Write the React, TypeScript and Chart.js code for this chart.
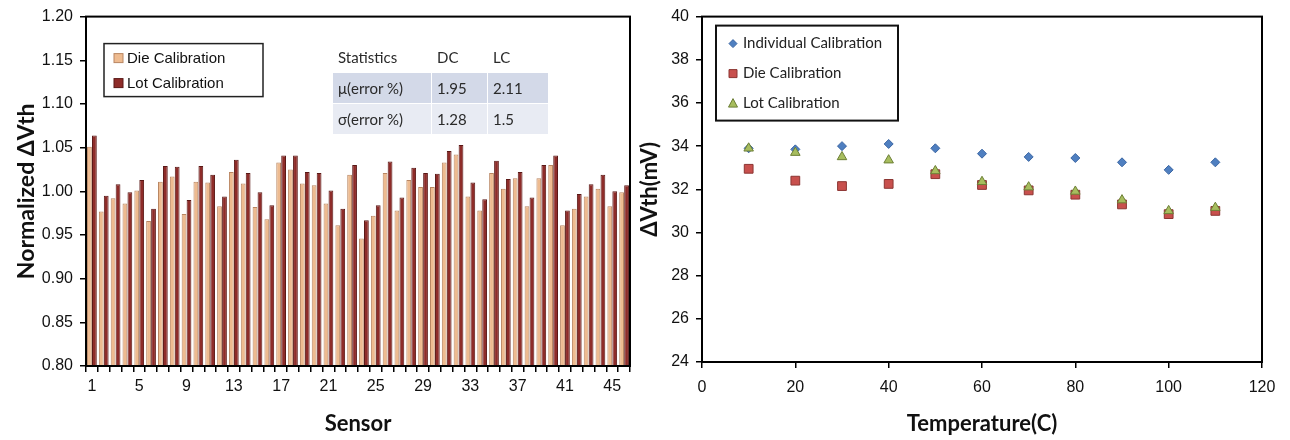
import React, { useEffect, useRef } from "react";
import { Chart, registerables } from "chart.js";
Chart.register(...registerables);

const sensors: string[] = Array.from({ length: 46 }, (_, i) => String(i + 1));
const dieCal: number[] = [
  1.051, 0.977, 0.992, 0.986, 1.001, 0.966, 1.011, 1.017, 0.974, 1.011,
  1.010, 0.983, 1.022, 1.009, 0.982, 0.968, 1.033, 1.025, 1.009, 1.007,
  0.986, 0.961, 1.019, 0.946, 0.972, 1.021, 0.978, 1.013, 1.005, 1.005,
  1.033, 1.042, 0.994, 0.978, 1.021, 1.003, 1.015, 0.983, 1.015, 1.030,
  0.961, 0.980, 0.994, 1.003, 0.983, 0.999,
];
const lotCal: number[] = [
  1.064, 0.995, 1.008, 0.999, 1.013, 0.980, 1.029, 1.028, 0.990, 1.029,
  1.019, 0.994, 1.036, 1.021, 0.999, 0.984, 1.041, 1.041, 1.022, 1.021,
  1.001, 0.980, 1.030, 0.967, 0.984, 1.034, 0.993, 1.027, 1.021, 1.020,
  1.046, 1.053, 1.010, 0.991, 1.035, 1.014, 1.022, 0.993, 1.030, 1.041,
  0.978, 0.997, 1.008, 1.019, 1.000, 1.007,
];

const temps: number[] = [10, 20, 30, 40, 50, 60, 70, 80, 90, 100, 110];
const indivVth: number[] = [33.9, 33.85, 34.0, 34.1, 33.9, 33.65, 33.5, 33.45, 33.25, 32.9, 33.25];
const dieVth: number[] = [32.95, 32.4, 32.15, 32.25, 32.7, 32.2, 31.95, 31.75, 31.3, 30.85, 31.0];
const lotVth: number[] = [33.9, 33.7, 33.5, 33.35, 32.85, 32.35, 32.1, 31.9, 31.5, 31.0, 31.15];

const statHeader: string[] = ["Statistics", "DC", "LC"];
const statMu: string[] = ["\u03bc(error %)", "1.95", "2.11"];
const statSigma: string[] = ["\u03c3(error %)", "1.28", "1.5"];

const TICK_FONT = { family: "'Liberation Sans', Arial, sans-serif", size: 16 };
const TITLE_FONT = { family: "Lato, 'Open Sans', sans-serif", size: 22, weight: "bold" as const, lineHeight: 1.2 };

const framePlugin = {
  id: "frame",
  afterDatasetsDraw(chart: any) {
    const { ctx, chartArea: a } = chart;
    ctx.save();
    ctx.strokeStyle = "#000";
    ctx.lineWidth = 2;
    ctx.strokeRect(a.left, a.top, a.right - a.left, a.bottom - a.top);
    ctx.restore();
  },
};

const barLegendPlugin = {
  id: "barLegend",
  afterDraw(chart: any) {
    const { ctx, chartArea: a } = chart;
    const x = a.left + 18;
    const y = a.top + 27;
    ctx.save();
    ctx.fillStyle = "#fff";
    ctx.fillRect(x, y, 159, 53);
    ctx.strokeStyle = "#222";
    ctx.lineWidth = 1.5;
    ctx.strokeRect(x, y, 159, 53);
    ctx.font = "15px 'Liberation Sans', Arial, sans-serif";
    ctx.textBaseline = "middle";
    chart.data.datasets.forEach((ds: any, i: number) => {
      const cy = y + 15 + i * 25;
      ctx.fillStyle = ds.backgroundColor;
      ctx.fillRect(x + 10, cy - 5, 9, 9);
      ctx.strokeStyle = ds.borderColor;
      ctx.lineWidth = 1;
      ctx.strokeRect(x + 10, cy - 5, 9, 9);
      ctx.fillStyle = "#111";
      ctx.fillText(ds.label, x + 23, cy);
    });
    ctx.restore();
  },
};

const scatterLegendPlugin = {
  id: "scatterLegend",
  afterDraw(chart: any) {
    const { ctx, chartArea: a } = chart;
    const x = a.left + 14;
    const y = a.top + 9;
    ctx.save();
    ctx.fillStyle = "#fff";
    ctx.fillRect(x, y, 182, 95);
    ctx.strokeStyle = "#111";
    ctx.lineWidth = 2;
    ctx.strokeRect(x, y, 182, 95);
    ctx.font = "15px Lato, 'Open Sans', sans-serif";
    ctx.textBaseline = "middle";
    chart.data.datasets.forEach((ds: any, i: number) => {
      const cy = y + 18 + i * 30;
      const cx = x + 17;
      ctx.fillStyle = ds.backgroundColor;
      ctx.strokeStyle = ds.borderColor;
      ctx.lineWidth = 1;
      ctx.beginPath();
      if (ds.pointStyle === "rectRot") {
        ctx.moveTo(cx, cy - 4);
        ctx.lineTo(cx + 4, cy);
        ctx.lineTo(cx, cy + 4);
        ctx.lineTo(cx - 4, cy);
        ctx.closePath();
      } else if (ds.pointStyle === "rect") {
        ctx.rect(cx - 4, cy - 4, 8, 8);
      } else {
        ctx.moveTo(cx, cy - 5);
        ctx.lineTo(cx + 4.5, cy + 3.5);
        ctx.lineTo(cx - 4.5, cy + 3.5);
        ctx.closePath();
      }
      ctx.fill();
      ctx.stroke();
      ctx.fillStyle = "#222";
      ctx.fillText(ds.label, x + 27, cy);
    });
    ctx.restore();
  },
};

function BarChart() {
  const ref = useRef<HTMLCanvasElement>(null);
  useEffect(() => {
    const chart = new Chart(ref.current!, {
      type: "bar",
      data: {
        labels: sensors,
        datasets: [
          {
            label: "Die Calibration",
            data: dieCal,
            backgroundColor: "#eebb90",
            borderColor: "#b98662",
            borderWidth: 1,
            categoryPercentage: 0.84,
            barPercentage: 0.96,
          },
          {
            label: "Lot Calibration",
            data: lotCal,
            backgroundColor: "#8e2c29",
            borderColor: "#5a1816",
            borderWidth: 1,
            categoryPercentage: 0.84,
            barPercentage: 0.96,
          },
        ],
      },
      options: {
        animation: false,
        responsive: false,
        layout: { padding: { left: 0, right: 6, top: 13, bottom: 0 } },
        plugins: { legend: { display: false }, tooltip: { enabled: false } },
        scales: {
          x: {
            grid: { drawOnChartArea: false, drawTicks: true, tickLength: 6, color: "#000", lineWidth: 1.5 },
            border: { display: true, color: "#000", width: 2 },
            ticks: {
              autoSkip: false,
              maxRotation: 0,
              padding: 5,
              color: "#111",
              font: TICK_FONT,
              callback: (_v: any, i: number) => (i % 4 === 0 ? sensors[i] : ""),
            },
            title: { display: true, text: "Sensor", color: "#111", font: TITLE_FONT, padding: { top: 0, bottom: 3 } },
            afterFit: (s: any) => { s.height = 74; },
          },
          y: {
            min: 0.8,
            max: 1.2,
            grid: { drawOnChartArea: false, drawTicks: true, tickLength: 6, color: "#000", lineWidth: 1.5 },
            border: { display: true, color: "#000", width: 2 },
            ticks: {
              stepSize: 0.05,
              padding: 7,
              color: "#111",
              font: TICK_FONT,
              callback: (v: any) => Number(v).toFixed(2),
            },
            title: { display: true, text: "Normalized \u0394Vth", color: "#111", font: { ...TITLE_FONT, size: 23 }, padding: { top: 13, bottom: 0 } },
            afterFit: (s: any) => { s.width = 86; },
          },
        },
      },
      plugins: [framePlugin, barLegendPlugin],
    } as any);
    return () => chart.destroy();
  }, []);
  return <canvas ref={ref} width={636} height={440} style={{ position: "absolute", left: 0, top: 0 }} />;
}

function ScatterChart() {
  const ref = useRef<HTMLCanvasElement>(null);
  useEffect(() => {
    const mk = (vals: number[]) => temps.map((t, i) => ({ x: t, y: vals[i] }));
    const chart = new Chart(ref.current!, {
      type: "scatter",
      data: {
        datasets: [
          {
            label: "Individual Calibration",
            data: mk(indivVth),
            pointStyle: "rectRot",
            pointRadius: 4.5,
            backgroundColor: "#4f7fc0",
            borderColor: "#3b66a3",
            borderWidth: 1,
            order: 2,
          },
          {
            label: "Die Calibration",
            data: mk(dieVth),
            pointStyle: "rect",
            pointRadius: 6.2,
            backgroundColor: "#c8504d",
            borderColor: "#8c3532",
            borderWidth: 1,
            order: 1,
          },
          {
            label: "Lot Calibration",
            data: mk(lotVth),
            pointStyle: "triangle",
            pointRadius: 5.5,
            backgroundColor: "#a7bd5e",
            borderColor: "#6c7f35",
            borderWidth: 1,
            order: 0,
          },
        ],
      },
      options: {
        animation: false,
        responsive: false,
        layout: { padding: { left: 0, right: 28, top: 14, bottom: 0 } },
        plugins: { legend: { display: false }, tooltip: { enabled: false } },
        scales: {
          x: {
            type: "linear",
            min: 0,
            max: 120,
            grid: { drawOnChartArea: false, drawTicks: true, tickLength: 6, color: "#000", lineWidth: 1.5 },
            border: { display: true, color: "#000", width: 2 },
            ticks: { stepSize: 20, padding: 10, color: "#111", font: TICK_FONT },
            title: { display: true, text: "Temperature(C)", color: "#111", font: TITLE_FONT, padding: { top: 0, bottom: 3 } },
            afterFit: (s: any) => { s.height = 78; },
          },
          y: {
            min: 24,
            max: 40,
            grid: { drawOnChartArea: false, drawTicks: true, tickLength: 6, color: "#000", lineWidth: 1.5 },
            border: { display: true, color: "#000", width: 2 },
            ticks: { stepSize: 2, padding: 7, color: "#111", font: TICK_FONT },
            title: { display: true, text: "\u0394Vth(mV)", color: "#111", font: TITLE_FONT, padding: { top: 1, bottom: 0 } },
            afterFit: (s: any) => { s.width = 66; },
          },
        },
      },
      plugins: [framePlugin, scatterLegendPlugin],
    } as any);
    return () => chart.destroy();
  }, []);
  return <canvas ref={ref} width={654} height={440} style={{ position: "absolute", left: 636, top: 0 }} />;
}

function StatsTable() {
  const cell = (w: number): React.CSSProperties => ({
    width: w,
    padding: "0 0 0 5px",
    boxSizing: "border-box",
    borderRight: "1px solid #fff",
  });
  const rows = [
    { vals: statHeader, bg: "transparent", h: 30 },
    { vals: statMu, bg: "#d3d9e8", h: 30 },
    { vals: statSigma, bg: "#e8ebf3", h: 30 },
  ];
  const widths = [99, 56, 61];
  return (
    <div
      style={{
        position: "absolute",
        left: 333,
        top: 42,
        fontFamily: "Lato, 'Open Sans', sans-serif",
        fontSize: 15,
        color: "#2a2a2a",
      }}
    >
      {rows.map((r, ri) => (
        <div
          key={ri}
          style={{
            display: "flex",
            height: r.h,
            lineHeight: r.h + "px",
            background: r.bg,
            borderTop: ri > 0 ? "1px solid #fff" : "none",
          }}
        >
          {r.vals.map((v, ci) => (
            <div key={ci} style={cell(widths[ci])}>
              {v}
            </div>
          ))}
        </div>
      ))}
    </div>
  );
}

export default function App() {
  return (
    <div
      style={{
        position: "fixed",
        left: 0,
        top: 0,
        width: 1290,
        height: 440,
        background: "#fff",
        overflow: "hidden",
      }}
    >
      <BarChart />
      <ScatterChart />
      <StatsTable />
    </div>
  );
}
